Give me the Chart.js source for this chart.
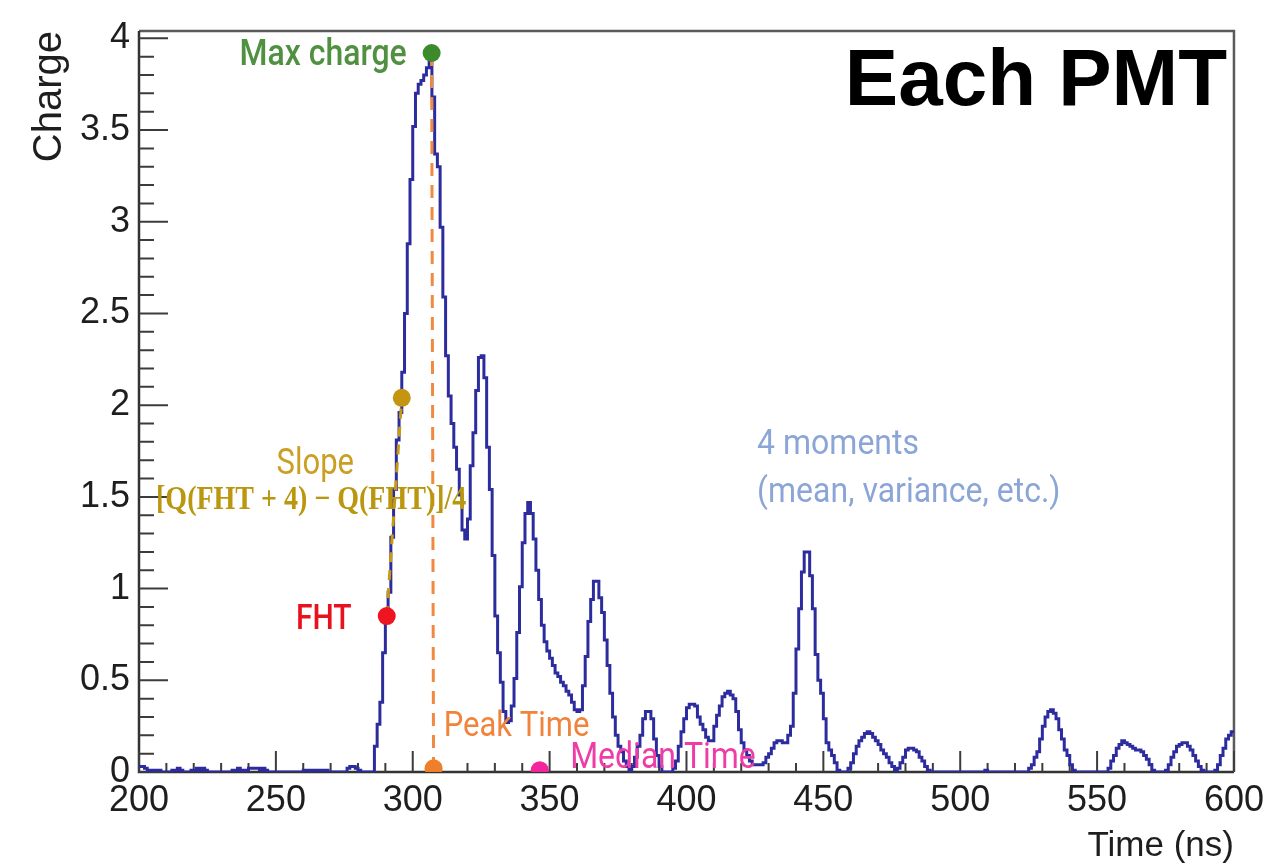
<!DOCTYPE html>
<html>
<head>
<meta charset="utf-8">
<script src="https://cdn.jsdelivr.net/npm/chart.js@4.4.1/dist/chart.umd.min.js"></script>
<style>
  html, body { margin: 0; padding: 0; background: #ffffff; }
  #wrap { width: 1271px; height: 865px; position: relative; }
</style>
</head>
<body>
<div id="wrap"><canvas id="pmt" width="1271" height="865"></canvas></div>
<script>
// Waveform of a single PMT: charge per 1 ns bin, from 200 ns to 600 ns
const binStart = 200;
const binWidth = 1;
const charge = [
  0.03,0.03,0.02,0.01,0,0.01,0,0.01,0,0, 0,0,0.01,0.01,0.02,0.01,0,0,0,0.01,
  0.01,0.02,0.01,0.02,0.01,0,0,0,0,0, 0,0,0,0,0.01,0.01,0.02,0.01,0,0.01,
  0.02,0.02,0.02,0.02,0.01,0.02,0.01,0,0,0, 0,0,0,0,0,0,0,0,0,0,
  0.01,0.01,0,0.01,0.01,0,0.01,0.01,0.01,0, 0,0,0,0,0,0,0.02,0.03,0.03,0.02,
  0.01,0,0,0,0,0, 0.14,0.26,0.38,0.65, 0.85,0.98,1.28,1.54,1.81,1.96,2.18,2.50,2.88,3.23,
  3.52,3.70,3.75,3.77,3.80,3.84,3.92,3.68,3.37,3.30, 2.97,2.59,2.27,2.05,1.90,1.77,1.65,1.51,1.32,1.27,
  1.38,1.67,1.85,2.08,2.26,2.27,2.15,1.77,1.54,1.18, 0.85,0.65,0.49,0.33,0.27,0.28,0.36,0.51,0.76,1.01,
  1.25,1.41,1.47,1.41,1.27,1.10,0.94,0.80,0.71,0.66, 0.62,0.58,0.54,0.52,0.49,0.47,0.44,0.42,0.38,0.34,
  0.33,0.34,0.47,0.63,0.82,0.94,1.04,1.04,0.95,0.87, 0.72,0.58,0.43,0.30,0.20,0.14,0.11,0.06,0.03,0.01,
  0.03,0.08,0.14,0.20,0.29,0.33,0.33,0.29,0.18,0.09, 0.03,0,0,0,0,0.02,0.06,0.14,0.22,0.29,
  0.35,0.37,0.37,0.36,0.30,0.26,0.23,0.19,0.17,0.17, 0.25,0.31,0.36,0.41,0.43,0.44,0.42,0.40,0.33,0.23,
  0.16,0.12,0.09,0.06,0.04,0.04,0.04,0.04,0.05,0.08, 0.10,0.13,0.16,0.17,0.17,0.16,0.16,0.20,0.25,0.43,
  0.67,0.89,1.09,1.20,1.20,1.07,0.89,0.64,0.50,0.43, 0.29,0.16,0.12,0.09,0.05,0.01,0,0,0,0.02,
  0.05,0.10,0.14,0.17,0.19,0.21,0.22,0.21,0.19,0.17, 0.15,0.12,0.10,0.08,0.05,0.03,0.01,0.02,0.05,0.08,
  0.12,0.13,0.13,0.12,0.11,0.08,0.06,0.03,0.01,0, 0,0,0,0,0,0,0,0,0,0,
  0,0,0,0,0,0,0,0,0,0.01, 0,0,0,0,0,0,0,0,0,0,
  0,0,0,0,0,0.02,0.04,0.08,0.11,0.18, 0.25,0.30,0.33,0.34,0.32,0.29,0.23,0.18,0.12,0.09,
  0.04,0.01,0,0,0,0,0,0,0,0, 0,0,0,0,0.02,0.06,0.09,0.13,0.15,0.17,
  0.16,0.15,0.14,0.13,0.12,0.12,0.11,0.09,0.07,0.04, 0.01,0,0,0,0,0.01,0.04,0.08,0.11,0.14,
  0.15,0.16,0.16,0.14,0.12,0.09,0.06,0.03,0.01,0, 0,0,0,0.01,0.04,0.09,0.13,0.18,0.20,0.22
];

// Axis tick labels
const xTicks = [200, 250, 300, 350, 400, 450, 500, 550, 600];
const yTicks = [0, 0.5, 1, 1.5, 2, 2.5, 3, 3.5, 4];

// Extracted features: FHT, FHT + slope point, max charge, peak time, median time
const markerNames   = ['FHT', 'Slope', 'Max charge', 'Peak Time', 'Median Time'];
const markerTimes   = [290.5, 296.0, 306.9, 307.6, 346.4];
const markerCharges = [0.85, 2.04, 3.92, 0.02, 0.01];
const markerColors  = ['#ee1420', '#c59411', '#3d8a2c', '#f07f2c', '#f2249e'];

const histPoints = charge.map((q, i) => ({ x: binStart + i * binWidth, y: q }));
histPoints.push({ x: binStart + charge.length * binWidth, y: charge[charge.length - 1] });

const markerPoints = markerTimes.map((t, i) => ({ x: t, y: markerCharges[i] }));
const peakLine  = [markerPoints[2], markerPoints[3]];
const slopeLine = [markerPoints[0], markerPoints[1]];

// Text notes placed in data coordinates (stretch = vertical glyph scale)
const notes = [
  { text: 'Max charge', x: 297.8, y: 3.907, anchor: 'right', color: '#4f9140', font: '500 32px Roboto', stretch: 1.18 },
  { text: 'Slope', x: 264.4, y: 1.673, anchor: 'center', color: '#c9a024', font: '400 31px Roboto', stretch: 1.18 },
  { text: '[Q(FHT + 4) \u2212 Q(FHT)]/4', x: 262.9, y: 1.482, anchor: 'center', color: '#bb970f', font: 'bold 28px "Liberation Serif"', stretch: 1.2 },
  { text: 'FHT', x: 267.5, y: 0.828, anchor: 'center', color: '#e8121e', font: '500 30px Roboto', stretch: 1.18 },
  { text: 'Peak Time', x: 311.3, y: 0.245, anchor: 'left', color: '#f0843c', font: '400 31px Roboto', stretch: 1.15 },
  { text: 'Median Time', x: 357.5, y: 0.07, anchor: 'left', color: '#ee3ea6', font: '400 32px Roboto', stretch: 1.15 },
  { text: '4 moments', x: 425.8, y: 1.782, anchor: 'left', color: '#8ba5d7', font: '400 32px Roboto', stretch: 1.12 },
  { text: '(mean, variance, etc.)', x: 425.8, y: 1.520, anchor: 'left', color: '#8ba5d7', font: '400 32px Roboto', stretch: 1.12 },
  { text: 'Each PMT', x: 597.5, y: 3.755, anchor: 'right', color: '#000000', font: 'bold 80px "Liberation Sans"', stretch: 1.0 }
];

const axisFamily = '"Liberation Sans", Arial, sans-serif';
const axisFont = { family: axisFamily, size: 36 };
const inkColor = '#1e1e1e';

// ROOT-style frame with inward major and minor tick marks
const framePlugin = {
  id: 'frame',
  beforeDatasetsDraw(chart) {
    const { ctx, chartArea: a, scales: { x, y } } = chart;
    ctx.save();
    ctx.lineCap = 'butt';
    ctx.strokeStyle = '#5a5a5a';
    ctx.lineWidth = 2.5;
    ctx.beginPath();
    ctx.moveTo(a.left, a.top); ctx.lineTo(a.right, a.top); ctx.lineTo(a.right, a.bottom);
    ctx.stroke();
    ctx.strokeStyle = '#333333';
    ctx.beginPath();
    ctx.moveTo(a.left, a.top); ctx.lineTo(a.left, a.bottom); ctx.lineTo(a.right, a.bottom);
    ctx.stroke();
    ctx.lineWidth = 2;
    ctx.strokeStyle = '#3c3c3c';
    ctx.beginPath();
    for (let t = x.min; t <= x.max + 1e-6; t += 10) {
      const px = x.getPixelForValue(t);
      const len = Math.round(t) % 50 === 0 ? 21 : 9;
      ctx.moveTo(px, a.bottom); ctx.lineTo(px, a.bottom - len);
    }
    for (let k = 0; k <= 40; k++) {
      const py = y.getPixelForValue(k / 10);
      const len = k % 5 === 0 ? 29 : 15;
      ctx.moveTo(a.left, py); ctx.lineTo(a.left + len, py);
    }
    ctx.stroke();
    ctx.restore();
  }
};

const notesPlugin = {
  id: 'notes',
  afterDatasetsDraw(chart) {
    const { ctx, scales: { x, y } } = chart;
    notes.forEach(n => {
      ctx.save();
      ctx.textBaseline = 'middle';
      ctx.font = n.font;
      ctx.fillStyle = n.color;
      ctx.textAlign = n.anchor;
      ctx.translate(x.getPixelForValue(n.x), y.getPixelForValue(n.y));
      ctx.scale(1, n.stretch);
      ctx.fillText(n.text, 0, 0);
      ctx.restore();
    });
  }
};

new Chart(document.getElementById('pmt'), {
  type: 'line',
  data: {
    datasets: [
      {
        label: 'Features',
        data: markerPoints,
        showLine: false,
        pointRadius: 9,
        pointHoverRadius: 9,
        pointBorderWidth: 0,
        pointBackgroundColor: markerColors,
        order: 1
      },
      {
        label: 'Peak time',
        data: peakLine,
        borderColor: '#f08a40',
        borderWidth: 3,
        borderDash: [13, 9],
        pointRadius: 0,
        order: 2
      },
      {
        label: 'Slope',
        data: slopeLine,
        borderColor: '#c79a16',
        borderWidth: 3,
        borderDash: [10, 8],
        pointRadius: 0,
        order: 2
      },
      {
        label: 'Charge',
        data: histPoints,
        stepped: true,
        borderColor: '#2c2c9e',
        borderWidth: 3,
        pointRadius: 0,
        fill: false,
        order: 3
      }
    ]
  },
  options: {
    responsive: false,
    animation: false,
    devicePixelRatio: 1,
    layout: { padding: { top: 31, right: 32, left: 0, bottom: 0 } },
    plugins: { legend: { display: false }, tooltip: { enabled: false } },
    scales: {
      x: {
        type: 'linear',
        min: 200,
        max: 600,
        afterBuildTicks: s => { s.ticks = xTicks.map(v => ({ value: v })); },
        afterFit: s => { s.height = 93; },
        grid: { display: false, drawTicks: false },
        border: { display: false },
        ticks: { autoSkip: false, maxRotation: 0, padding: 7, color: inkColor, font: axisFont },
        title: { display: true, text: 'Time (ns)', align: 'end', color: inkColor,
                 font: { family: axisFamily, size: 35 }, padding: { top: 0, bottom: -2 } }
      },
      y: {
        type: 'linear',
        min: 0,
        max: 4.04,
        afterBuildTicks: s => { s.ticks = yTicks.map(v => ({ value: v })); },
        afterFit: s => { s.width = 139; },
        grid: { display: false, drawTicks: false },
        border: { display: false },
        ticks: { padding: 9, color: inkColor, font: axisFont, callback: v => String(v) },
        title: { display: true, text: 'Charge', align: 'end', color: inkColor,
                 font: { family: axisFamily, size: 40 }, padding: { top: 26, bottom: 0 } }
      }
    }
  },
  plugins: [framePlugin, notesPlugin]
});
</script>
</body>
</html>
